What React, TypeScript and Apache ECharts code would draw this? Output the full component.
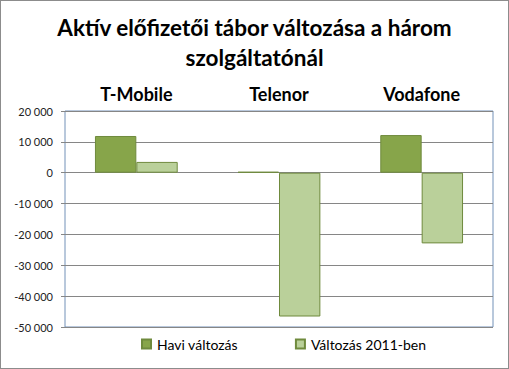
import React, { useEffect, useRef } from "react";
import * as echarts from "echarts";

const titleLines = ["Aktív előfizetői tábor változása a három", "szolgáltatónál"];
const categories = ["T-Mobile", "Telenor", "Vodafone"];
const seriesNames = ["Havi változás", "Változás 2011-ben"];
const haviValtozas = [11900, 300, 12200];
const valtozas2011 = [3500, -46600, -22900];
const yMin = -50000;
const yMax = 20000;
const yInterval = 10000;

const fmt = (v: number) => {
  const s = Math.abs(v).toString().replace(/\B(?=(\d{3})+(?!\d))/g, " ");
  return (v < 0 ? "-" : "") + s;
};

export default function App() {
  const ref = useRef<HTMLDivElement>(null);
  useEffect(() => {
    if (!ref.current) return;
    const chart = echarts.init(ref.current, undefined, { renderer: "svg" });
    chart.setOption({
      animation: false,
      backgroundColor: "#ffffff",
      title: {
        text: titleLines.join("\n"),
        left: "center",
        top: 6,
        textStyle: {
          fontFamily: "Lato",
          fontWeight: "bold",
          fontSize: 22.5,
          lineHeight: 30,
          color: "#000000",
        },
      },
      legend: {
        bottom: 12,
        left: 135,
        itemGap: 57,
        itemWidth: 9,
        itemHeight: 9,
        icon: "rect",
        textStyle: { fontFamily: "Lato", fontSize: 14, color: "#000", padding: [0, 0, 0, 1] },
        data: seriesNames,
      },
      grid: {
        left: 64,
        right: 15,
        top: 110,
        bottom: 41,
        show: true,
        borderColor: "#7391b8",
        borderWidth: 1,
        containLabel: false,
      },
      xAxis: {
        type: "category",
        data: categories,
        position: "top",
        axisLine: { show: false, onZero: false },
        axisTick: { show: false },
        axisLabel: {
          margin: 8,
          fontFamily: "Lato",
          fontWeight: "bold",
          fontSize: 18,
          color: "#000",
        },
      },
      yAxis: {
        type: "value",
        min: yMin,
        max: yMax,
        interval: yInterval,
        axisLine: { show: false },
        axisTick: { show: true, length: 4, lineStyle: { color: "#868686" } },
        splitLine: { show: true, lineStyle: { color: "#868686", width: 1 } },
        axisLabel: {
          margin: 12,
          fontFamily: "Lato",
          fontSize: 11,
          color: "#222",
          formatter: (v: number) => fmt(v),
        },
      },
      series: [
        {
          name: seriesNames[0],
          type: "bar",
          data: haviValtozas,
          barGap: "0%",
          barCategoryGap: "42%",
          itemStyle: { color: "#87a54a", borderColor: "#6f8a3d", borderWidth: 1 },
        },
        {
          name: seriesNames[1],
          type: "bar",
          data: valtozas2011,
          barGap: "0%",
          barCategoryGap: "42%",
          itemStyle: { color: "#bad09a", borderColor: "#6f8a3d", borderWidth: 1 },
        },
      ],
    });
    return () => chart.dispose();
  }, []);
  return (
    <div
      ref={ref}
      style={{
        position: "fixed",
        left: 0,
        top: 0,
        width: 509,
        height: 369,
        boxSizing: "border-box",
        border: "1px solid #8c8c8c",
      }}
    />
  );
}
